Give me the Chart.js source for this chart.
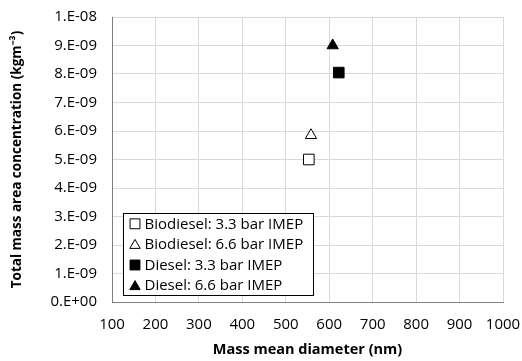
<!DOCTYPE html>
<html>
<head>
<meta charset="utf-8">
<script src="https://cdn.jsdelivr.net/npm/chart.js@4"></script>
<style>
  html, body { margin: 0; padding: 0; background: #fff; }
  #wrap { width: 522px; height: 361px; position: relative; }
</style>
</head>
<body>
<div id="wrap"><canvas id="c"></canvas></div>
<script>
// Mass mean diameter (nm) vs total mass area concentration (kg m^-3)
const seriesNames = [
  'Biodiesel: 3.3 bar IMEP',
  'Biodiesel: 6.6 bar IMEP',
  'Diesel: 3.3 bar IMEP',
  'Diesel: 6.6 bar IMEP',
];
const diameters = [553, 558, 622, 608];
const concentrations = [5.0e-9, 5.85e-9, 8.05e-9, 9.0e-9];
const markerShapes = ['rect', 'triangle', 'rect', 'triangle'];
const markerFilled = [false, false, true, true];

const FONT = '"Open Sans", "Liberation Sans", sans-serif';
const AXIS = '#7f7f7f';
const GRID = '#d9d9d9';

// E-notation like a spreadsheet: 9.E-09, 0.E+00
function fmtSci(v) {
  const s = Number(v).toExponential(0);
  const [m, e] = s.split('e');
  const n = parseInt(e, 10);
  return `${m}.E${n < 0 ? '-' : '+'}${String(Math.abs(n)).padStart(2, '0')}`;
}

function markerSize(shape) { return shape === 'rect' ? 7.5 : 6.5; }

function drawMarker(ctx, shape, filled, x, y, r) {
  ctx.fillStyle = filled ? '#000' : '#fff';
  ctx.strokeStyle = '#000';
  ctx.lineWidth = 1;
  ctx.beginPath();
  if (shape === 'rect') {
    const s = r * Math.SQRT1_2;
    ctx.rect(x - s, y - s, 2 * s, 2 * s);
  } else {
    ctx.moveTo(x, y - r);
    ctx.lineTo(x + r * 0.866, y + r / 2);
    ctx.lineTo(x - r * 0.866, y + r / 2);
    ctx.closePath();
  }
  ctx.fill();
  ctx.stroke();
}

const datasets = seriesNames.map((name, i) => ({
  label: name,
  data: [{ x: diameters[i], y: concentrations[i] }],
  pointStyle: markerShapes[i],
  pointRadius: markerSize(markerShapes[i]),
  pointHoverRadius: markerSize(markerShapes[i]),
  pointBorderWidth: 1,
  borderColor: '#000',
  backgroundColor: markerFilled[i] ? '#000' : '#fff',
  showLine: false,
}));

// boxed legend sitting in the lower-left corner of the plot
const insetLegend = {
  id: 'inset-legend',
  afterDraw(chart) {
    const ctx = chart.ctx;
    const area = chart.chartArea;
    ctx.save();
    ctx.font = `15px ${FONT}`;
    const rowH = 20.6;
    const textW = Math.max(...seriesNames.map(n => ctx.measureText(n).width));
    const w = Math.round(textW + 31);
    const h = Math.round(rowH * seriesNames.length);
    const x0 = Math.round(area.left + 11) + 0.5;
    const y0 = Math.round(area.bottom - 7 - h) + 0.5;
    ctx.fillStyle = '#fff';
    ctx.fillRect(x0, y0, w, h);
    ctx.strokeStyle = '#000';
    ctx.lineWidth = 1;
    ctx.strokeRect(x0, y0, w, h);
    ctx.textBaseline = 'middle';
    ctx.textAlign = 'left';
    seriesNames.forEach((name, i) => {
      const cy = y0 + rowH * (i + 0.5);
      const r = markerShapes[i] === 'rect' ? 7 : 6;
      drawMarker(ctx, markerShapes[i], markerFilled[i], x0 + 11.5, cy + (markerShapes[i] === 'rect' ? 0 : 1), r);
      ctx.fillStyle = '#000';
      ctx.fillText(name, x0 + 21, cy + 0.5);
    });
    ctx.restore();
  },
};

new Chart(document.getElementById('c'), {
  type: 'scatter',
  data: { datasets },
  options: {
    responsive: true, maintainAspectRatio: false, animation: false,
    layout: { padding: { top: 17, right: 19, left: 0, bottom: 0 } },
    scales: {
      x: {
        type: 'linear', min: 100, max: 1000,
        afterFit: s => { s.height = 59; s.paddingLeft = 0; s.paddingRight = 0; },
        border: { color: AXIS, width: 1 },
        grid: { color: GRID, drawTicks: false },
        ticks: { stepSize: 100, padding: 14, color: '#000', callback: v => String(v),
                 font: { family: FONT, size: 15 } },
        title: { display: true, text: 'Mass mean diameter (nm)', color: '#000',
                 font: { family: FONT, size: 14.5, weight: 'bold' }, padding: { top: 0, bottom: 2 } },
      },
      y: {
        type: 'linear', min: 0, max: 1e-8,
        afterFit: s => { s.width = 112; s.paddingTop = 0; s.paddingBottom = 0; },
        border: { color: AXIS, width: 1 },
        grid: { color: GRID, drawTicks: false },
        ticks: { stepSize: 1e-9, padding: 15, color: '#000', callback: v => fmtSci(v),
                 font: { family: FONT, size: 15 } },
        title: { display: true, text: 'Total mass area concentration (kgm⁻³)', color: '#000',
                 font: { family: FONT, size: 13.5, weight: 'bold' }, padding: { top: 9, bottom: 0 } },
      },
    },
    plugins: {
      legend: { display: false },
      tooltip: { enabled: false },
    },
  },
  plugins: [insetLegend],
});
</script>
</body>
</html>
